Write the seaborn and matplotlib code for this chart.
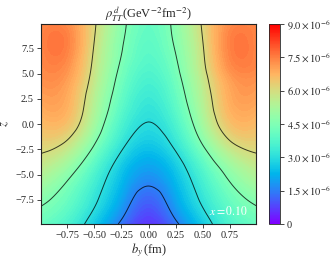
import numpy as np
import pandas as pd
import seaborn as sns
import matplotlib
matplotlib.use("Agg")
import matplotlib.pyplot as plt
import matplotlib.tri as mtri
from matplotlib.ticker import FuncFormatter

# ---- data (values in units of 1e-6 GeV^-2 fm^-2) ----
b_y = [-0.99, -0.75, -0.5, -0.25, 0.0, 0.25, 0.5, 0.75, 0.99]
z_vals = [-9.9, -7.5, -5.0, -2.5, 0.0, 2.5, 5.0, 7.5, 9.9]
# rows follow z_vals (bottom -> top), columns follow b_y (left -> right)
rho = [
    [4.10, 3.60, 2.60, 1.35, 0.60, 1.35, 2.60, 3.60, 4.10],
    [4.65, 4.10, 3.15, 2.00, 1.15, 2.00, 3.15, 4.10, 4.65],
    [5.40, 4.70, 3.60, 2.45, 1.80, 2.45, 3.60, 4.70, 5.40],
    [6.10, 5.65, 4.35, 3.05, 2.45, 3.05, 4.35, 5.65, 6.10],
    [6.60, 6.50, 5.10, 3.60, 2.97, 3.60, 5.10, 6.50, 6.60],
    [7.00, 6.85, 5.45, 4.00, 3.30, 4.00, 5.45, 6.85, 7.00],
    [7.30, 7.15, 5.75, 4.30, 3.65, 4.30, 5.75, 7.15, 7.30],
    [7.40, 7.45, 5.95, 4.55, 3.90, 4.55, 5.95, 7.45, 7.40],
    [7.35, 7.30, 6.10, 4.70, 4.05, 4.70, 6.10, 7.30, 7.35],
]
unit = 1e-6
line_levels = [1.5, 3.0, 4.5, 6.0]
cbar_ticks = [0.0, 1.5, 3.0, 4.5, 6.0, 7.5, 9.0]
label_text = "$x = 0.10$"

# ---- style ----
sns.set_style("ticks")
plt.rcParams["font.family"] = ["Liberation Serif", "DejaVu Serif"]
plt.rcParams["mathtext.fontset"] = "stix"
plt.rcParams["axes.unicode_minus"] = True

df = pd.DataFrame(rho, index=z_vals, columns=b_y)
B, Z = np.meshgrid(df.columns.values.astype(float), df.index.values.astype(float))
F = df.values.astype(float)

triang = mtri.Triangulation(B.ravel(), Z.ravel())
refiner = mtri.UniformTriRefiner(triang)
tri_ref, f_ref = refiner.refine_field(F.ravel(), subdiv=4)

fig = plt.figure(figsize=(3.35, 2.62), dpi=100)
ax = fig.add_axes([0.1224, 0.145, 0.6418, 0.763])
cax = fig.add_axes([0.803, 0.145, 0.033, 0.763])

cmap = plt.get_cmap("rainbow")
fill_levels = np.linspace(0, 9.0, 101)
cs = ax.tricontourf(tri_ref, f_ref, levels=fill_levels, cmap=cmap, vmin=0, vmax=9.0)
ax.tricontour(tri_ref, f_ref, levels=line_levels, colors="black",
              linewidths=0.7, alpha=0.75)

ax.set_xlim(min(b_y), max(b_y))
ax.set_ylim(min(z_vals), max(z_vals))
ax.set_xticks([-0.75, -0.5, -0.25, 0.0, 0.25, 0.5, 0.75])
ax.set_yticks([-7.5, -5.0, -2.5, 0.0, 2.5, 5.0, 7.5])
ax.tick_params(labelsize=7.5, length=3, width=0.6, pad=2)
for s in ax.spines.values():
    s.set_linewidth(0.8)
    s.set_color("#222222")

ax.set_xlabel("$b_y\\,$(fm)", fontsize=9, labelpad=1)
ax.set_ylabel("$z$", fontsize=9, labelpad=3)
ax.set_title("$\\rho^{\\,d}_{TT}$(GeV$^{-2}$fm$^{-2}$)", fontsize=9, pad=3)
ax.text(0.87, 0.065, label_text, transform=ax.transAxes, color="white",
        fontsize=8.5, ha="center", va="center")

sm = matplotlib.cm.ScalarMappable(norm=matplotlib.colors.Normalize(0, 9.0), cmap=cmap)
cb = fig.colorbar(sm, cax=cax)
cb.set_ticks(cbar_ticks)

def fmt(v, pos):
    if abs(v) < 1e-12:
        return "0"
    return "$%.1f \\times 10^{-6}$" % v

cb.ax.yaxis.set_major_formatter(FuncFormatter(fmt))
cb.ax.tick_params(labelsize=7.5, length=3, width=0.6, pad=2)
cb.outline.set_linewidth(0.6)

fig.savefig("out.png", dpi=100)
